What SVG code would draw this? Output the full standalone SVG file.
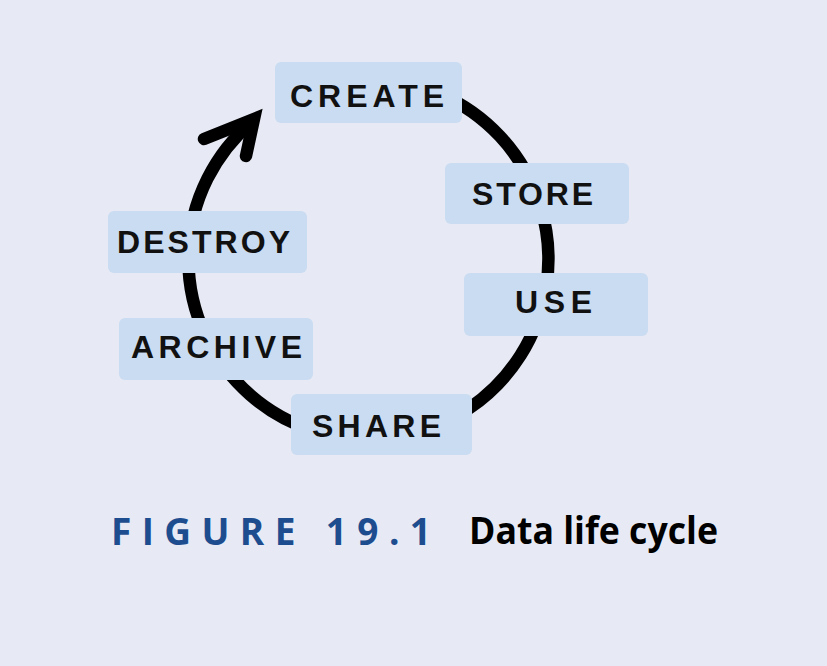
<svg xmlns="http://www.w3.org/2000/svg" width="827" height="666" viewBox="0 0 827 666">
<style>
.box{fill:#cadcf1;}
.lbl{font-family:"Liberation Sans","DejaVu Sans",sans-serif;font-weight:bold;font-size:32px;fill:#111;}
.ring{fill:none;stroke:#000;stroke-width:12.5;}
.cap{font-family:"Open Sans","Liberation Sans",sans-serif;font-weight:bold;font-size:37px;}
</style>
<rect width="827" height="666" fill="#e7eaf5"/>
<g id="connectors">
<path class="ring" d="M 440 94 A 180 180 0 1 1 253 121"/>
<polyline class="ring" points="204,139 254,119 246,156" stroke-linecap="round" stroke-linejoin="miter"/>
</g>
<g id="create"><rect class="box" x="275" y="62" width="187" height="61" rx="6"/><text class="lbl" x="290" y="107" textLength="154" lengthAdjust="spacing">CREATE</text></g>
<g id="store"><rect class="box" x="445" y="163" width="184" height="61" rx="6"/><text class="lbl" x="472" y="205" textLength="121" lengthAdjust="spacing">STORE</text></g>
<g id="use"><rect class="box" x="464" y="273" width="184" height="63" rx="6"/><text class="lbl" x="515" y="313" textLength="77" lengthAdjust="spacing">USE</text></g>
<g id="share"><rect class="box" x="291" y="394" width="181" height="61" rx="6"/><text class="lbl" x="312" y="437" textLength="129" lengthAdjust="spacing">SHARE</text></g>
<g id="archive"><rect class="box" x="119" y="318" width="194" height="62" rx="6"/><text class="lbl" x="131" y="358" textLength="171" lengthAdjust="spacing">ARCHIVE</text></g>
<g id="destroy"><rect class="box" x="108" y="211" width="199" height="62" rx="6"/><text class="lbl" x="117" y="253" textLength="173" lengthAdjust="spacing">DESTROY</text></g>
<g id="caption">
<text class="cap" x="111" y="545" fill="#1e4d8f" textLength="320" lengthAdjust="spacing">FIGURE 19.1</text>
<text class="cap" x="469" y="544" fill="#000" textLength="249" lengthAdjust="spacingAndGlyphs">Data life cycle</text>
</g>
</svg>
